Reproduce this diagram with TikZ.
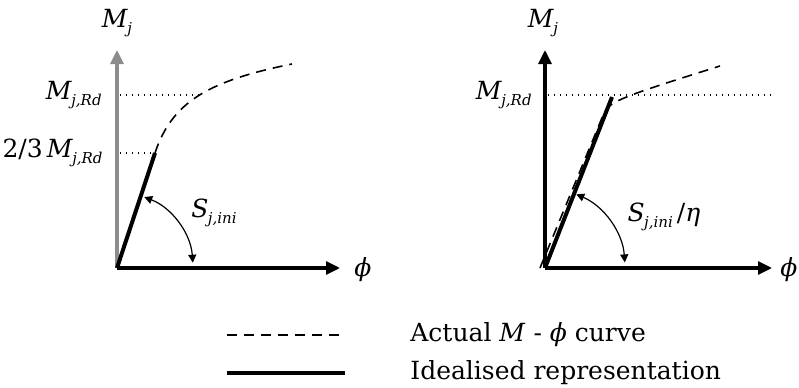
\documentclass[tikz,border=0pt]{standalone}
\usepackage{fontspec}
\setmainfont{DejaVu Serif}
\usetikzlibrary{arrows.meta}
\newcommand{\Msb}[2]{\textit{#1}\kern-0.3pt\raisebox{-0.5ex}{\fontsize{7.5}{9}\selectfont\textit{#2}}}
\newcommand{\phisym}{\textit{ϕ}}
\tikzset{
  axis/.style={line width=1.6pt, -{Triangle[length=7pt,width=6.5pt]}},
  ideal/.style={line width=2pt},
  actual/.style={line width=0.8pt, dash pattern=on 5pt off 3.5pt},
  level/.style={line width=0.7pt, dash pattern=on 0.7pt off 2.3pt},
  anglearrow/.style={line width=0.6pt, {Triangle[length=4pt,width=4pt]}-{Triangle[length=4pt,width=4pt]}},
  lbl/.style={font=\fontsize{12.5}{15}\selectfont, inner sep=1pt}
}
\begin{document}
\begin{tikzpicture}[x=0.5pt,y=0.5pt]
\useasboundingbox (0,0) rectangle (799,387);
% ---------- left plot ----------
\coordinate (O1) at (117,119);
\coordinate (Y1) at (117,337);
\coordinate (X1) at (340,119);
\coordinate (P1) at (155,234);
\coordinate (Q1) at (201,292);
\coordinate (E1) at (292,323);
\coordinate (L1a) at (120,292);
\coordinate (L1b) at (120,234);
\draw[axis, draw=gray!90, fill=gray!90] (O1) -- (Y1);
\draw[axis] (O1) -- (X1);
\draw[level] (L1a) -- (Q1);
\draw[level] (L1b) -- (P1);
\draw[ideal] (O1) -- (P1);
\draw[actual] (P1) .. controls (172,285) and (208,306) .. (E1);
\draw[anglearrow] ([shift={(69:76)}]O1) arc[start angle=69, end angle=4, radius=76];
\node[lbl] (mj1) at (117,364) {\Msb{M}{j}};
\node[lbl] (phi1) at (363,117) {\phisym};
\node[lbl, anchor=east] (mrd1) at (104,292) {\Msb{M}{j,Rd}};
\node[lbl, anchor=east] (m231) at (105,234) {2/3\hspace{2pt}\Msb{M}{j,Rd}};
\node[lbl] (s1) at (214,174) {\Msb{S}{j,ini}};
% ---------- right plot ----------
\coordinate (O2) at (545,119);
\coordinate (Y2) at (545,337);
\coordinate (X2) at (772,119);
\coordinate (P2) at (612,290);
\coordinate (B2) at (604,274);
\coordinate (E2) at (720,321);
\coordinate (L2a) at (548,292);
\coordinate (L2b) at (772,292);
\draw[axis] (O2) -- (Y2);
\draw[axis] (O2) -- (X2);
\draw[level] (L2a) -- (L2b);
\draw[ideal] (O2) -- (P2);
\draw[actual] ([xshift=-2.5]O2) -- (B2) .. controls (609,286) and (628,292) .. (E2);
\draw[anglearrow] ([shift={(67:80)}]O2) arc[start angle=67, end angle=4, radius=80];
\node[lbl] (mj2) at (543,364) {\Msb{M}{j}};
\node[lbl] (phi2) at (789,117) {\phisym};
\node[lbl, anchor=east] (mrd2) at (534,292) {\Msb{M}{j,Rd}};
\node[lbl] (s2) at (664,170) {\Msb{S}{j,ini}\,/\textit{η}};
% ---------- legend ----------
\coordinate (La) at (227,52);
\coordinate (Lb) at (345,52);
\coordinate (Lc) at (227,14);
\coordinate (Ld) at (345,14);
\draw[actual] (La) -- (Lb);
\draw[ideal] (Lc) -- (Ld);
\node[lbl, anchor=west] (t1) at (408,52) {Actual \textit{M} - \phisym\ curve};
\node[lbl, anchor=west] (t2) at (408,14) {Idealised representation};
\end{tikzpicture}
\end{document}
